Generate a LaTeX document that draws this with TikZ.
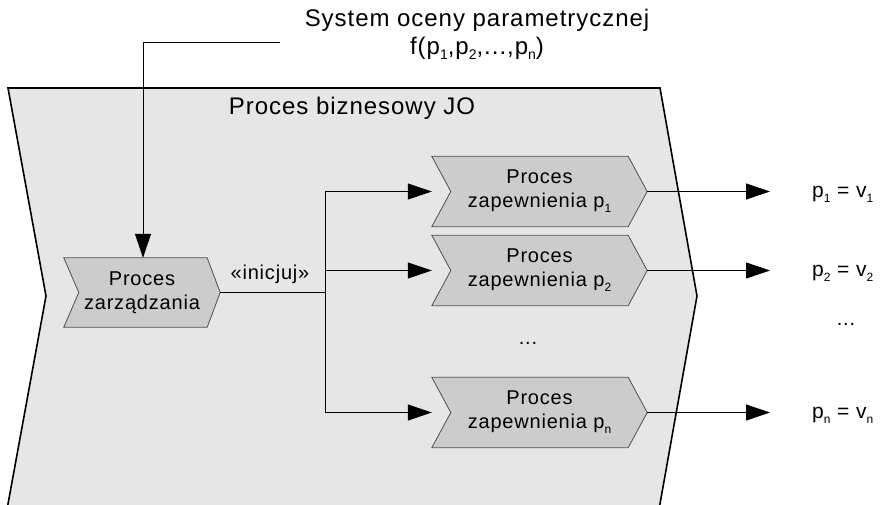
\documentclass[tikz,border=0pt]{standalone}
\usepackage{fontspec}
\setmainfont[LetterSpace=4]{Liberation Sans}
\usetikzlibrary{arrows.meta,calc}
\pgfdeclarelayer{back}
\pgfdeclarelayer{mid}
\pgfsetlayers{back,mid,main}
\definecolor{bgray}{RGB}{230,230,230}
\definecolor{cgray}{RGB}{204,204,204}
\definecolor{cline}{RGB}{80,80,80}
\newcommand\psub[2][12]{\raisebox{-5pt}{\fontsize{#1}{#1}\selectfont #2}}
\newcommand\drawchev[3]{%
  \begin{pgfonlayer}{mid}
  \draw[chevfill] (#1.north west) -- ($(#1.north east)+(-#3,0)$) -- (#1.east)
    -- ($(#1.south east)+(-#3,0)$) -- (#1.south west) -- ($(#1.west)+(#2,0)$) -- cycle;
  \end{pgfonlayer}}
\begin{document}
\begin{tikzpicture}[x=1pt,y=-1pt,
  bigline/.style={draw=black,line width=1.6pt},
  chevfill/.style={fill=cgray,draw=cline,line width=0.8pt},
  procbox/.style={minimum width=#1,minimum height=70,inner sep=0,align=center,
    font=\fontsize{20}{24}\selectfont},
  conn/.style={draw=black,line width=0.8pt},
  arr/.style={conn,-{Triangle[length=24pt,width=16pt]}},
  lbl/.style={inner sep=0,font=\fontsize{20}{24}\selectfont},
  res/.style={inner sep=0,anchor=base west,font=\fontsize{21}{24}\selectfont},
  big/.style={inner sep=0,align=center,font=\fontsize{24}{28}\selectfont}]
\useasboundingbox (0,0) rectangle (886,504);
% big process shape
\begin{pgfonlayer}{back}
\fill[bgray] (8,88) -- (660,88) -- (697,296) -- (658.9,510) -- (6.9,510) -- (46,296) -- cycle;
\draw[bigline] (6.9,510) -- (46,296) -- (8,88) -- (660,88) -- (697,296) -- (658.9,510);
\end{pgfonlayer}
\node[big] (title) at (352,108) {Proces biznesowy JO};
\node[big] (sys) at (477,34) {System oceny parametrycznej\\f(p\psub[14]{1},p\psub[14]{2},...,p\psub[14]{n})};
% process nodes
\node[procbox=156,minimum height=69] (pz) at (142,292.5) {Proces\\zarządzania};
\node[procbox=215] (b1) at (539.5,191.5) {Proces\\zapewnienia p\psub{1}};
\node[procbox=215] (b2) at (539.5,270.5) {Proces\\zapewnienia p\psub{2}};
\node[procbox=215] (bn) at (539.5,412.5) {Proces\\zapewnienia p\psub{n}};
\drawchev{pz}{15}{13}
\drawchev{b1}{19}{19}
\drawchev{b2}{19}{19}
\drawchev{bn}{19}{19}
\node[lbl] (dots1) at (528,343) {...};
\node[lbl] (ini) at (270,274) {«inicjuj»};
% results
\node[res] (r1) at (812,197) {p\psub{1} = v\psub{1}};
\node[res] (r2) at (812,276) {p\psub{2} = v\psub{2}};
\node[lbl] (dots2) at (846,324) {...};
\node[res] (rn) at (812,418) {p\psub{n} = v\psub{n}};
% connectors
\coordinate (hs) at (280,42);
\coordinate (j) at (325,292.5);
\coordinate (ox) at (770,0);
\draw[arr] (hs) -| ([xshift=1pt]pz.north);
\draw[conn] (pz.east) -- (j);
\draw[arr] (j) |- (b1.west);
\draw[arr] (j) |- (b2.west);
\draw[arr] (j) |- (bn.west);
\draw[arr] (b1.east) -- (b1.east -| ox);
\draw[arr] (b2.east) -- (b2.east -| ox);
\draw[arr] (bn.east) -- (bn.east -| ox);
\end{tikzpicture}
\end{document}
